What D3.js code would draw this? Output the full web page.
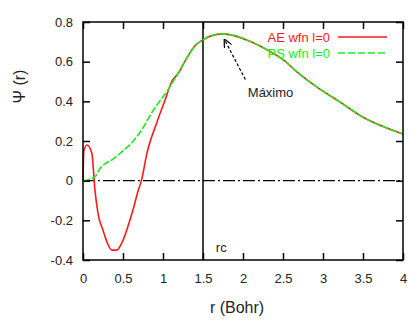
<!DOCTYPE html>
<html>
<head>
<meta charset="utf-8">
<script src="https://cdn.jsdelivr.net/npm/d3@7"></script>
<style>
  body { margin: 0; background: #fff; }
  text { font-family: "Liberation Sans", Arial, sans-serif; fill: #222; }
</style>
</head>
<body>
<div id="chart"></div>
<script>
// all-electron wavefunction, l=0
var aeR = [0, 0.01, 0.05, 0.11, 0.15, 0.19, 0.25, 0.3, 0.36, 0.42, 0.49, 0.57, 0.63, 0.69, 0.73, 0.8, 0.92, 1.02, 1.11, 1.19, 1.3, 1.4, 1.5, 1.6, 1.75, 1.9, 2.1, 2.3, 2.5, 2.7, 2.93, 3.2, 3.5, 3.8, 4.0];
var aeVal = [0, 0.15, 0.18, 0.14, -0.05, -0.17, -0.25, -0.31, -0.35, -0.35, -0.31, -0.22, -0.14, -0.05, 0, 0.14, 0.29, 0.40, 0.50, 0.54, 0.62, 0.68, 0.71, 0.73, 0.74, 0.73, 0.70, 0.66, 0.61, 0.54, 0.47, 0.40, 0.32, 0.265, 0.235];

// pseudo wavefunction, l=0
var psR = [0, 0.15, 0.21, 0.38, 0.5, 0.63, 0.74, 0.84, 0.94, 1.05, 1.17, 1.3, 1.4, 1.5, 1.6, 1.75, 1.9, 2.1, 2.3, 2.5, 2.7, 2.93, 3.2, 3.5, 3.8, 4.0];
var psVal = [0, 0.02, 0.06, 0.11, 0.15, 0.2, 0.26, 0.33, 0.39, 0.45, 0.53, 0.62, 0.68, 0.71, 0.73, 0.74, 0.73, 0.70, 0.66, 0.61, 0.54, 0.47, 0.40, 0.32, 0.265, 0.235];

var xTicks = [0, 0.5, 1, 1.5, 2, 2.5, 3, 3.5, 4];
var yTicks = [-0.4, -0.2, 0, 0.2, 0.4, 0.6, 0.8];
var rc = 1.5;

var margin = {top: 22, right: 6, bottom: 60, left: 83},
    width = 409 - margin.left - margin.right,
    height = 320 - margin.top - margin.bottom;

var x = d3.scaleLinear().domain([0, 4]).range([0, width]);
var y = d3.scaleLinear().domain([-0.4, 0.8]).range([height, 0]);

var svg = d3.select("#chart").append("svg")
    .attr("width", 409)
    .attr("height", 320)
  .append("g")
    .attr("transform", "translate(" + margin.left + "," + margin.top + ")");

var line = d3.line()
    .x(function(d) { return x(d[0]); })
    .y(function(d) { return y(d[1]); })
    .curve(d3.curveMonotoneX);

// zero line
svg.append("line")
    .attr("x1", 0).attr("x2", width)
    .attr("y1", y(0)).attr("y2", y(0))
    .attr("stroke", "#000")
    .attr("stroke-width", 1.3)
    .attr("stroke-dasharray", "12,3,2,3");

// rc line
svg.append("line")
    .attr("x1", x(rc)).attr("x2", x(rc))
    .attr("y1", 0).attr("y2", height)
    .attr("stroke", "#000")
    .attr("stroke-width", 1.5);

// curves
svg.append("path")
    .datum(d3.zip(aeR, aeVal))
    .attr("fill", "none")
    .attr("stroke", "#ff1a1a")
    .attr("stroke-width", 1.6)
    .attr("d", line);

svg.append("path")
    .datum(d3.zip(psR, psVal))
    .attr("fill", "none")
    .attr("stroke", "#1aee1a")
    .attr("stroke-width", 1.6)
    .attr("stroke-dasharray", "7,2")
    .attr("d", line);

// frame with inward ticks on all sides
svg.append("rect")
    .attr("width", width).attr("height", height)
    .attr("fill", "none")
    .attr("stroke", "#000")
    .attr("stroke-width", 1.5);

svg.append("g")
    .attr("transform", "translate(0," + height + ")")
    .call(d3.axisBottom(x).tickValues(xTicks).tickSize(-7).tickPadding(14)
      .tickFormat(function(d) { return d; }))
    .call(function(g) {
      g.select(".domain").remove();
      g.selectAll("line").attr("stroke-width", 1.5);
      g.selectAll("text").style("font-size", "13px");
    });

svg.append("g")
    .call(d3.axisTop(x).tickValues(xTicks).tickSize(-7).tickFormat(""))
    .call(function(g) {
      g.select(".domain").remove();
      g.selectAll("line").attr("stroke-width", 1.5);
    });

svg.append("g")
    .call(d3.axisLeft(y).tickValues(yTicks).tickSize(-7).tickPadding(10)
      .tickFormat(function(d) { return d; }))
    .call(function(g) {
      g.select(".domain").remove();
      g.selectAll("line").attr("stroke-width", 1.5);
      g.selectAll("text").style("font-size", "13px");
    });

svg.append("g")
    .attr("transform", "translate(" + width + ",0)")
    .call(d3.axisRight(y).tickValues(yTicks).tickSize(-7).tickFormat(""))
    .call(function(g) {
      g.select(".domain").remove();
      g.selectAll("line").attr("stroke-width", 1.5);
    });

// axis titles
svg.append("text")
    .attr("x", width / 2 - 6)
    .attr("y", height + 53)
    .style("text-anchor", "middle")
    .style("font-size", "16px")
    .text("r (Bohr)");

svg.append("text")
    .attr("transform", "rotate(-90)")
    .attr("x", -(y(0.5) + 5))
    .attr("y", -58)
    .style("text-anchor", "middle")
    .style("font-size", "16px")
    .text("Ψ (r)");

// legend
var legend = [
  {label: "AE wfn l=0", color: "#ff1a1a", dash: null},
  {label: "PS wfn l=0", color: "#1aee1a", dash: "7,3"}
];
legend.forEach(function(d, i) {
  var ly = 15 + i * 16;
  svg.append("text")
      .attr("x", 247)
      .attr("y", ly + 5)
      .style("text-anchor", "end")
      .style("font-size", "13px")
      .style("fill", d.color)
      .text(d.label);
  svg.append("line")
      .attr("x1", 255).attr("x2", 304)
      .attr("y1", ly).attr("y2", ly)
      .attr("stroke", d.color)
      .attr("stroke-width", 1.6)
      .attr("stroke-dasharray", d.dash);
});

// annotation
svg.append("defs").append("marker")
    .attr("id", "arrow")
    .attr("viewBox", "0 0 10 10")
    .attr("refX", 9).attr("refY", 5)
    .attr("markerWidth", 7).attr("markerHeight", 7)
    .attr("orient", "auto")
  .append("path")
    .attr("d", "M0,0 L10,5 L0,10")
    .attr("fill", "none")
    .attr("stroke", "#000")
    .attr("stroke-width", 1.5);

svg.append("line")
    .attr("x1", x(2.03)).attr("y1", y(0.51))
    .attr("x2", x(1.77)).attr("y2", y(0.71))
    .attr("stroke", "#000")
    .attr("stroke-width", 1.2)
    .attr("stroke-dasharray", "3,2")
    .attr("marker-end", "url(#arrow)");

svg.append("text")
    .attr("x", x(2.06))
    .attr("y", y(0.42))
    .style("font-size", "13px")
    .text("Máximo");

svg.append("text")
    .attr("x", x(1.66))
    .attr("y", y(-0.36))
    .style("font-size", "13px")
    .text("rc");
</script>
</body>
</html>
